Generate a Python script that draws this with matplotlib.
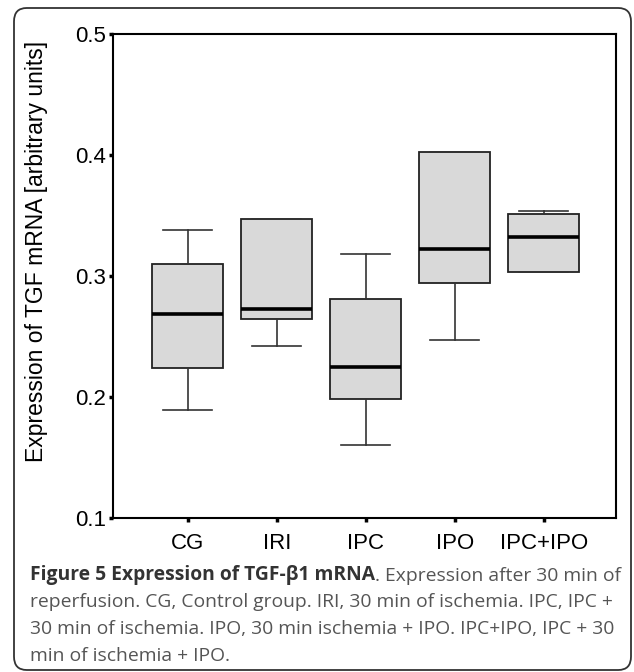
import numpy as np
import matplotlib.pyplot as plt
from matplotlib.patches import FancyBboxPatch

# Datos (cajas y bigotes)
grupos = ['CG', 'IRI', 'IPC', 'IPO', 'IPC+IPO']
bigote_inf = [0.189, 0.242, 0.160, 0.247, 0.303]
q1 = [0.224, 0.2645, 0.198, 0.294, 0.303]
mediana = [0.269, 0.273, 0.225, 0.322, 0.332]
q3 = [0.310, 0.347, 0.281, 0.4025, 0.351]
bigote_sup = [0.338, 0.347, 0.318, 0.4025, 0.354]

yticks = [0.1, 0.2, 0.3, 0.4, 0.5]

w, h = 6.34, 6.72
fig = plt.figure(figsize=(w, h), dpi=100)
ax = fig.add_axes([113/634, 1 - 518/672, (616 - 113)/634, (518 - 34)/672])

stats = []
for i, g in enumerate(grupos):
    stats.append(dict(label=g, whislo=bigote_inf[i], q1=q1[i], med=mediana[i],
                      q3=q3[i], whishi=bigote_sup[i], fliers=[]))

ax.bxp(stats, positions=np.arange(1, 6), widths=0.8, capwidths=0.55,
       patch_artist=True, showfliers=False,
       boxprops=dict(facecolor='#d9d9d9', edgecolor='#222222', linewidth=1.3),
       medianprops=dict(color='black', linewidth=2.6),
       whiskerprops=dict(color='#333333', linewidth=1.2),
       capprops=dict(color='#333333', linewidth=1.2))

ax.set_xlim(0.16, 5.81)
ax.set_ylim(0.1, 0.5)
ax.set_yticks(yticks)
ax.set_yticklabels(['0.1', '0.2', '0.3', '0.4', '0.5'])
ax.set_xticks(np.arange(1, 6))
ax.set_xticklabels(grupos)

for s in ax.spines.values():
    s.set_linewidth(1.5)
ax.tick_params(axis='y', direction='out', length=3, width=2.5, labelsize=16, pad=2)
ax.tick_params(axis='x', direction='out', length=3, width=2.5, labelsize=16, pad=8)
for lab in ax.get_xticklabels() + ax.get_yticklabels():
    lab.set_family('Liberation Sans')

ax.set_ylabel('Expression of TGF mRNA [arbitrary units]', fontsize=16.5,
              family='Liberation Sans')
ax.yaxis.set_label_coords(-0.13, 0.55)

# Pie de figura
cap_fs = 13.9
x0 = 30 / 634
negrita = fig.text(x0, 1 - 580/672, 'Figure 5 Expression of TGF-\u03b21 mRNA',
                   fontsize=cap_fs, fontweight='bold', family='Open Sans',
                   color='#333333', va='baseline')
ax.annotate('. Expression after 30 min of', xy=(1, 0), xycoords=negrita,
            fontsize=cap_fs, family='Open Sans', color='#555555',
            va='bottom', ha='left', annotation_clip=False)
lineas = ['reperfusion. CG, Control group. IRI, 30 min of ischemia. IPC, IPC +',
          '30 min of ischemia. IPO, 30 min ischemia + IPO. IPC+IPO, IPC + 30',
          'min of ischemia + IPO.']
for k, t in enumerate(lineas):
    fig.text(x0, 1 - (580 + 27 * (k + 1))/672, t, fontsize=cap_fs,
             family='Open Sans', color='#555555', va='baseline')

# Marco redondeado
marco = FancyBboxPatch((14/634, 2/672), (631 - 14)/634, (664 - 2)/672,
                       boxstyle='round,pad=0,rounding_size=0.02',
                       transform=fig.transFigure, fill=False,
                       edgecolor='#333333', linewidth=1.3)
fig.patches.append(marco)

fig.savefig('out.png', dpi=100)
